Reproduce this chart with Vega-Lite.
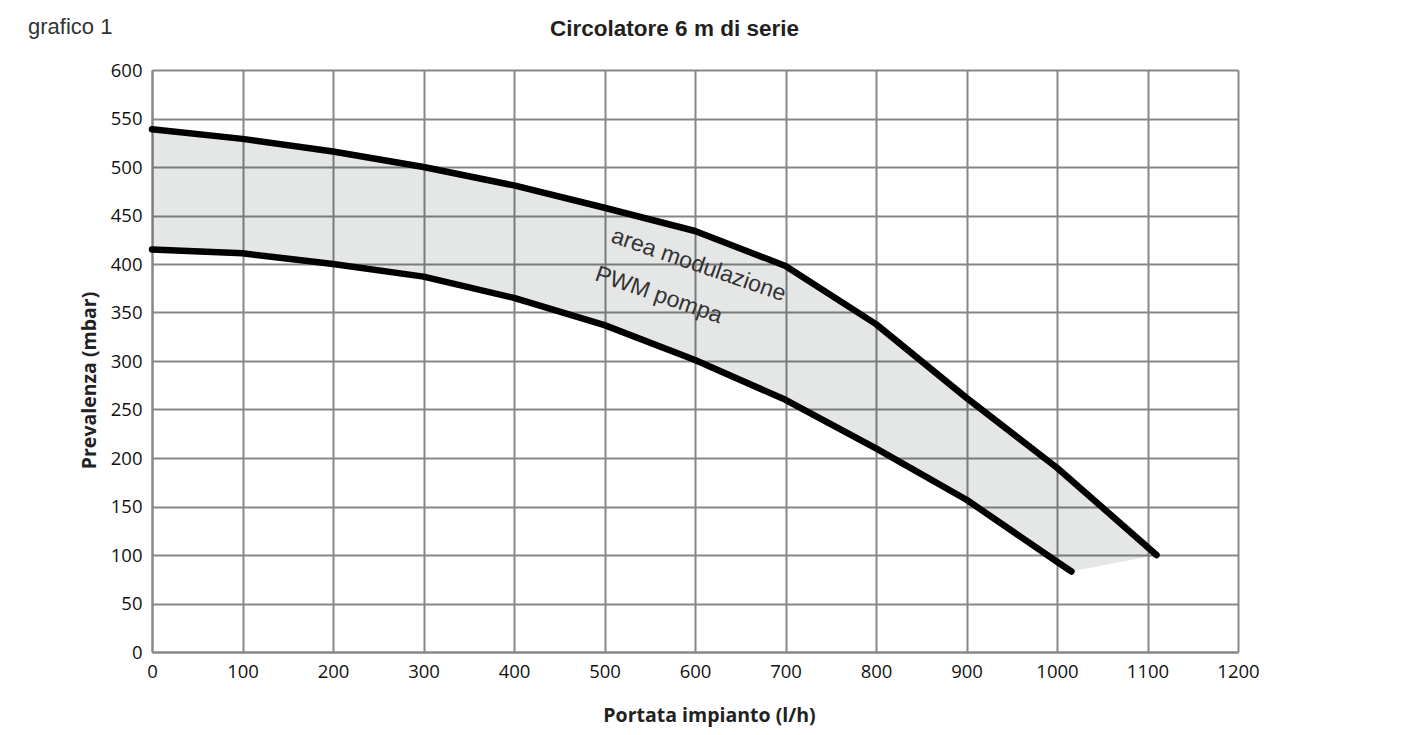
{
  "$schema": "https://vega.github.io/schema/vega-lite/v6.json",
  "autosize": {"type": "none"},
  "padding": {"left": 152, "top": 70, "right": 170, "bottom": 83},
  "width": 1086,
  "height": 582,
  "background": "#ffffff",
  "title": {
    "text": "grafico 1",
    "anchor": "start",
    "frame": "group",
    "dx": -124,
    "dy": 39,
    "offset": 0,
    "baseline": "alphabetic",
    "font": "Liberation Sans",
    "fontSize": 22,
    "fontWeight": "normal",
    "color": "#333333"
  },
  "config": {
    "view": {"stroke": null},
    "axis": {
      "gridColor": "#878787",
      "gridWidth": 2,
      "gridOpacity": 1,
      "domainColor": "#878787",
      "domainWidth": 2,
      "ticks": false,
      "labelFont": "Open Sans",
      "labelFontSize": 18.5,
      "labelColor": "#111111",
      "titleFont": "Open Sans",
      "titleFontWeight": "bold",
      "titleFontSize": 19.5,
      "titleColor": "#222222"
    }
  },
  "datasets": {
    "curves": [
      {"curve": "max", "q": 0, "p": 539},
      {"curve": "max", "q": 100, "p": 529},
      {"curve": "max", "q": 200, "p": 516},
      {"curve": "max", "q": 300, "p": 500},
      {"curve": "max", "q": 400, "p": 481},
      {"curve": "max", "q": 500, "p": 458},
      {"curve": "max", "q": 600, "p": 434},
      {"curve": "max", "q": 700, "p": 398},
      {"curve": "max", "q": 800, "p": 338},
      {"curve": "max", "q": 900, "p": 262},
      {"curve": "max", "q": 1000, "p": 190},
      {"curve": "max", "q": 1110, "p": 100},
      {"curve": "min", "q": 0, "p": 415},
      {"curve": "min", "q": 100, "p": 411},
      {"curve": "min", "q": 200, "p": 400},
      {"curve": "min", "q": 300, "p": 387},
      {"curve": "min", "q": 400, "p": 365},
      {"curve": "min", "q": 500, "p": 337},
      {"curve": "min", "q": 600, "p": 301},
      {"curve": "min", "q": 700, "p": 260},
      {"curve": "min", "q": 800, "p": 210},
      {"curve": "min", "q": 900, "p": 157},
      {"curve": "min", "q": 1000, "p": 93},
      {"curve": "min", "q": 1016, "p": 83}
    ],
    "band": [
      {"q": 0, "hi": 539, "lo": 415},
      {"q": 100, "hi": 529, "lo": 411},
      {"q": 200, "hi": 516, "lo": 400},
      {"q": 300, "hi": 500, "lo": 387},
      {"q": 400, "hi": 481, "lo": 365},
      {"q": 500, "hi": 458, "lo": 337},
      {"q": 600, "hi": 434, "lo": 301},
      {"q": 700, "hi": 398, "lo": 260},
      {"q": 800, "hi": 338, "lo": 210},
      {"q": 900, "hi": 262, "lo": 157},
      {"q": 1000, "hi": 190, "lo": 93},
      {"q": 1016, "hi": 177, "lo": 83},
      {"q": 1110, "hi": 100, "lo": 100}
    ],
    "labels": [
      {"q": 604, "p": 399, "text": "area modulazione"},
      {"q": 560, "p": 368, "text": "PWM pompa"}
    ]
  },
  "layer": [
    {
      "data": {"name": "band"},
      "mark": {"type": "area", "fill": "#000a0a", "fillOpacity": 0.1, "stroke": null},
      "encoding": {
        "x": {
          "field": "q", "type": "quantitative",
          "scale": {"domain": [0, 1200], "nice": false, "zero": false},
          "axis": {
            "orient": "bottom",
            "values": [0, 100, 200, 300, 400, 500, 600, 700, 800, 900, 1000, 1100, 1200],
            "format": "d",
            "grid": true,
            "labelPadding": 10,
            "labelDx": 3,
            "labelFlush": false,
            "title": "Portata impianto (l/h)",
            "titleX": 557,
            "titleY": 69,
            "titleBaseline": "alphabetic",
            "titleAlign": "center"
          }
        },
        "y": {
          "field": "hi", "type": "quantitative",
          "title": "Prevalenza (mbar)",
          "scale": {"domain": [0, 600], "nice": false},
          "axis": {
            "values": [0, 50, 100, 150, 200, 250, 300, 350, 400, 450, 500, 550, 600],
            "format": "d",
            "grid": true,
            "labelPadding": 10,
            "labelFlush": false,
            "titleX": -63,
            "titleY": 310,
            "titleAngle": -90,
            "titleBaseline": "middle",
            "titleAlign": "center"
          }
        },
        "y2": {"field": "lo"}
      }
    },
    {
      "data": {"name": "curves"},
      "mark": {"type": "line", "color": "#000000", "strokeWidth": 6.5, "strokeCap": "round", "strokeJoin": "round"},
      "encoding": {
        "x": {
          "field": "q", "type": "quantitative",
          "axis": {
            "orient": "top",
            "labels": false,
            "ticks": false,
            "domain": false,
            "grid": false,
            "title": "Circolatore 6 m di serie",
            "titleFont": "Liberation Sans",
            "titleFontSize": 22.5,
            "titleFontWeight": "bold",
            "titleColor": "#231f20",
            "titleX": 522,
            "titleY": -35,
            "titleBaseline": "alphabetic",
            "titleAlign": "center"
          }
        },
        "y": {"field": "p", "type": "quantitative", "title": "Prevalenza (mbar)"},
        "detail": {"field": "curve"}
      }
    },
    {
      "data": {"name": "labels"},
      "mark": {"type": "text", "font": "Liberation Sans", "fontSize": 23, "angle": 19, "align": "center", "baseline": "middle", "color": "#333333"},
      "encoding": {
        "x": {"field": "q", "type": "quantitative", "axis": null},
        "y": {"field": "p", "type": "quantitative", "title": "Prevalenza (mbar)"},
        "text": {"field": "text"}
      }
    }
  ],
  "resolve": {"axis": {"x": "independent"}}
}
